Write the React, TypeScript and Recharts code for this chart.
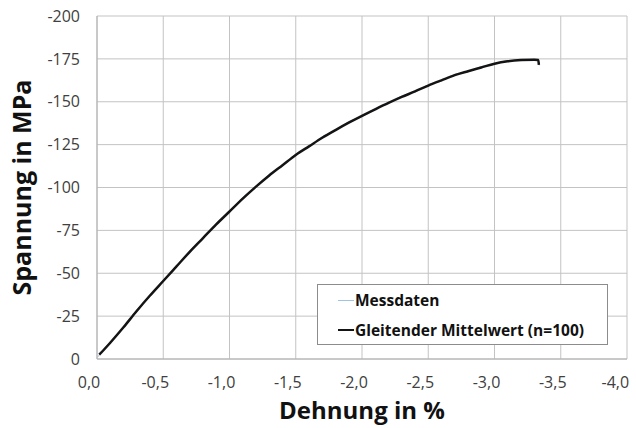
import { LineChart, Line, XAxis, YAxis, CartesianGrid, Legend, Label } from "recharts";

// Dehnung in % (x) und Spannung in MPa (y)
const messDehnung = [-0.004, -0.03, -0.1, -0.2, -0.3, -0.4, -0.5, -0.6, -0.7, -0.8, -0.9, -1.0, -1.1, -1.2, -1.3, -1.4, -1.5, -1.6, -1.7, -1.8, -1.9, -2.0, -2.1, -2.2, -2.3, -2.4, -2.5, -2.6, -2.7, -2.8, -2.9, -3.0, -3.1, -3.2, -3.3, -3.33, -3.338];
const messSpannung = [-1.0, -3.6, -10.2, -18.0, -28.8, -36.4, -46.2, -53.5, -63.2, -70.0, -79.2, -85.4, -94.2, -100.0, -107.8, -112.5, -119.6, -123.6, -129.7, -133.0, -138.4, -141.3, -146.2, -148.9, -153.4, -155.6, -159.9, -162.1, -166.0, -167.4, -170.5, -171.8, -174.0, -174.0, -174.9, -174.0, -171.2];

const mittelDehnung = [-0.017, -0.1, -0.2, -0.3, -0.4, -0.5, -0.6, -0.7, -0.8, -0.9, -1.0, -1.1, -1.2, -1.3, -1.4, -1.5, -1.6, -1.7, -1.8, -1.9, -2.0, -2.1, -2.2, -2.3, -2.4, -2.5, -2.6, -2.7, -2.8, -2.9, -3.0, -3.1, -3.2, -3.3, -3.33, -3.335];
const mittelSpannung = [-2.5, -9.5, -18.5, -28.0, -37.0, -45.5, -54.0, -62.5, -70.5, -78.5, -86.0, -93.5, -100.5, -107.0, -113.0, -119.0, -124.0, -129.0, -133.5, -137.8, -141.8, -145.6, -149.3, -152.8, -156.0, -159.4, -162.5, -165.5, -167.8, -170.0, -172.2, -173.6, -174.3, -174.5, -174.3, -171.5];

const xTicks = [0, -0.5, -1, -1.5, -2, -2.5, -3, -3.5, -4];
const yTicks = [0, -25, -50, -75, -100, -125, -150, -175, -200];
const legendOrder = ["Messdaten", "Gleitender Mittelwert (n=100)"];

const messData = messDehnung.map((x, i) => ({ x, y: messSpannung[i] }));
const mittelData = mittelDehnung.map((x, i) => ({ x, y: mittelSpannung[i] }));

const font = "'Open Sans', sans-serif";

const renderLegend = (props: any) => {
  const items = [...props.payload].sort(
    (a: any, b: any) => legendOrder.indexOf(a.value) - legendOrder.indexOf(b.value)
  );
  return (
    <div
      style={{
        border: "1px solid #8c8c8c",
        background: "#fff",
        padding: "0 0 0 20px",
        boxSizing: "border-box",
        width: "100%",
        height: "100%",
      }}
    >
      {items.map((entry: any) => (
        <div
          key={entry.value}
          style={{ display: "flex", alignItems: "center", height: 30, fontFamily: font, fontWeight: 700, fontSize: 15.5, color: "#111" }}
        >
          <span
            style={{
              display: "inline-block",
              width: 16,
              height: entry.value === "Messdaten" ? 1 : 2,
              background: entry.color,
              marginRight: 1,
            }}
          />
          {entry.value}
        </div>
      ))}
    </div>
  );
};

const App = () => {
  return (
    <div style={{ position: "absolute", left: 0, top: 0 }}>
      <LineChart width={636} height={428} margin={{ top: 16, right: 9, left: 0, bottom: 0 }}>
        <CartesianGrid stroke="#c3c3c3" strokeWidth={1} />
        <XAxis
          type="number"
          dataKey="x"
          domain={[-4, 0]}
          reversed
          ticks={xTicks}
          tickFormatter={(v: number) => v.toFixed(1).replace(".", ",")}
          tickLine={false}
          tickMargin={12}
          height={69}
          stroke="#b0b0b0"
          tick={{ fill: "#404040", fontSize: 16, fontFamily: font, dx: -8 }}
        >
          <Label value="Dehnung in %" position="center" dy={17} style={{ fontFamily: font, fontWeight: 700, fontSize: 24, fill: "#111" }} />
        </XAxis>
        <YAxis
          type="number"
          dataKey="y"
          domain={[-200, 0]}
          reversed
          ticks={yTicks}
          tickLine={false}
          tickMargin={11}
          width={97}
          stroke="#b0b0b0"
          tick={{ fill: "#404040", fontSize: 16, fontFamily: font }}
        >
          <Label value="Spannung in MPa" angle={-90} position="center" dx={-26} style={{ fontFamily: font, fontWeight: 700, fontSize: 25, fill: "#111" }} />
        </YAxis>
        <Legend
          layout="horizontal"
          verticalAlign="middle"
          align="center"
          content={renderLegend}
          wrapperStyle={{ left: 317, top: 284, width: 291, height: 61 }}
        />
        <Line
          data={messData}
          dataKey="y"
          name="Messdaten"
          type="monotone"
          stroke="#9dc3e6"
          strokeWidth={1}
          dot={false}
          isAnimationActive={false}
        />
        <Line
          data={mittelData}
          dataKey="y"
          name="Gleitender Mittelwert (n=100)"
          type="monotone"
          stroke="#141414"
          strokeWidth={2.5}
          dot={false}
          isAnimationActive={false}
        />
      </LineChart>
    </div>
  );
};

export default App;
